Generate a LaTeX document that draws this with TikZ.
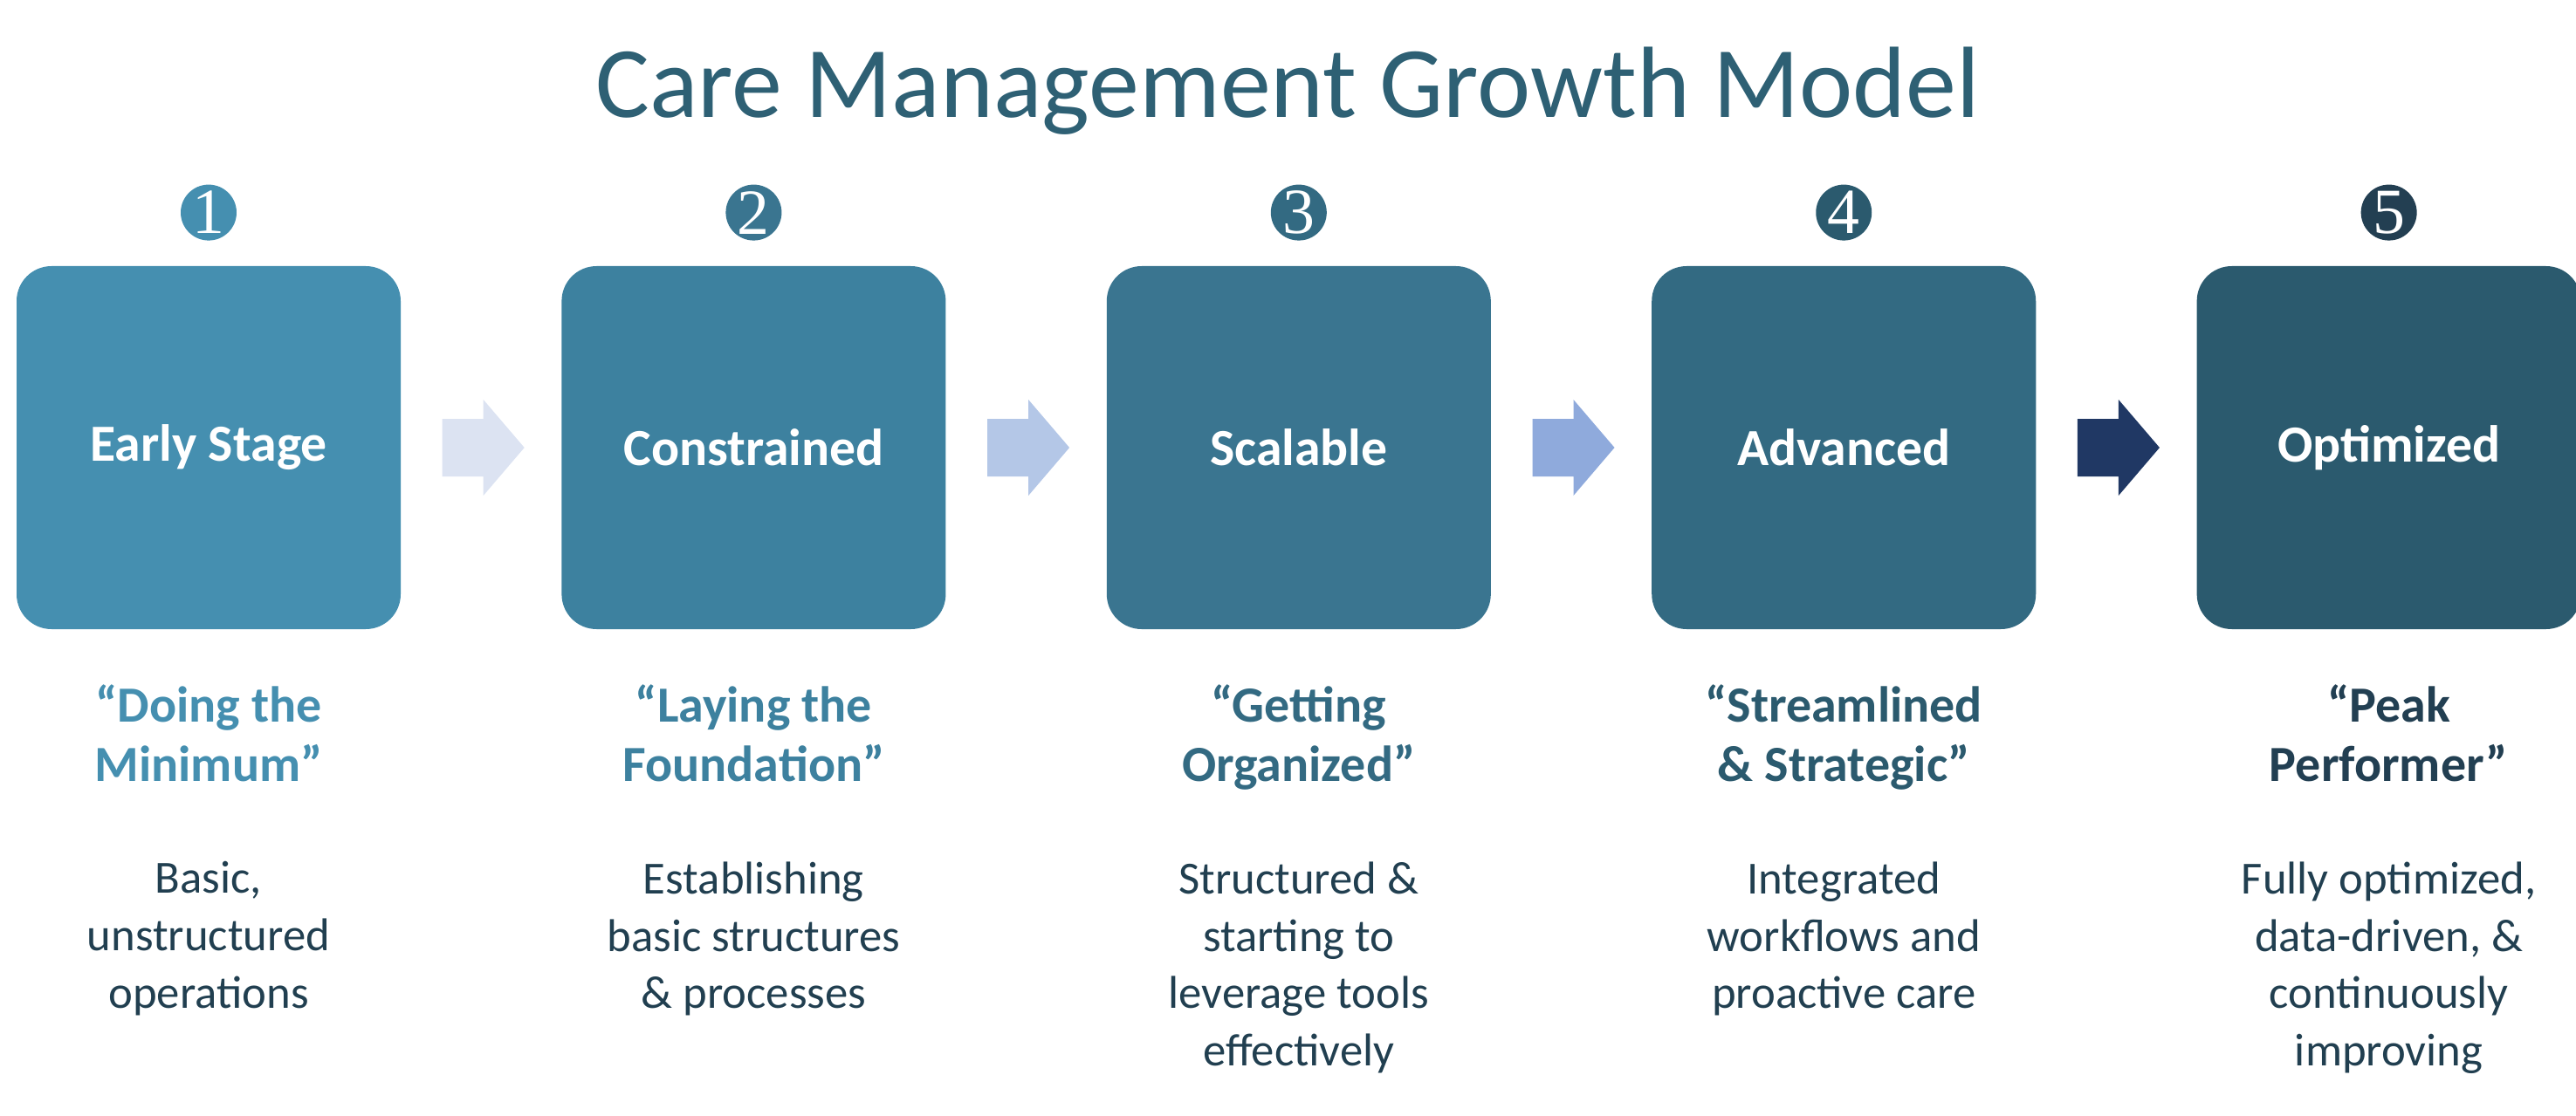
\documentclass[tikz,border=0pt]{standalone}
\usepackage{fontspec}
\setmainfont{Carlito}
\newfontfamily\numfont{Liberation Serif}
\usetikzlibrary{positioning,calc}
\definecolor{stageA}{HTML}{458FB0}
\definecolor{stageB}{HTML}{3D819F}
\definecolor{stageC}{HTML}{3A7590}
\definecolor{stageD}{HTML}{336A82}
\definecolor{stageE}{HTML}{2B5A6E}
\definecolor{circA}{HTML}{458FB0}
\definecolor{circB}{HTML}{3A7590}
\definecolor{circC}{HTML}{336A82}
\definecolor{circD}{HTML}{2B5A6E}
\definecolor{circE}{HTML}{233F52}
\definecolor{headA}{HTML}{458FB0}
\definecolor{headB}{HTML}{3D819F}
\definecolor{headC}{HTML}{336A82}
\definecolor{headD}{HTML}{2B5A6E}
\definecolor{headE}{HTML}{223F52}
\definecolor{arrA}{HTML}{DCE3F2}
\definecolor{arrB}{HTML}{B4C7E7}
\definecolor{arrC}{HTML}{8FAADC}
\definecolor{arrD}{HTML}{203864}
\definecolor{titlecol}{HTML}{2E6074}
\definecolor{desccol}{HTML}{213F50}
\tikzstyle{stagebox} = [rectangle, rounded corners=0.4cm, minimum width=4.4cm,
    minimum height=4.16cm, inner sep=0pt, text=white,
    font=\fontsize{17}{20}\selectfont\bfseries]
\tikzstyle{badge} = [circle, minimum size=0.64cm, inner sep=0pt, text=white,
    font=\numfont\fontsize{21}{21}\selectfont]
\tikzstyle{motto} = [align=center, inner sep=0pt, anchor=north,
    font=\fontsize{16.5}{19.3}\selectfont\bfseries]
\tikzstyle{desc} = [align=center, inner sep=0pt, anchor=north, text=desccol,
    font=\fontsize{15}{18.7}\selectfont]
\begin{document}
\begin{tikzpicture}
    \useasboundingbox (0,0) rectangle (29.51,12.78);
    % Title
    \node[text=titlecol, font=\fontsize{33}{36}\selectfont] (title) at (14.75,11.74) {Care Management Growth Model};
    % Place stages
    \node[stagebox, fill=stageA] (early) at (2.39,7.65) {Early Stage};
    \node[stagebox, fill=stageB, right=1.83cm of early] (constrained) {Constrained};
    \node[stagebox, fill=stageC, right=1.83cm of constrained] (scalable) {Scalable};
    \node[stagebox, fill=stageD, right=1.83cm of scalable] (advanced) {Advanced};
    \node[stagebox, fill=stageE, right=1.83cm of advanced] (optimized) {Optimized};
    % Numbers
    \node[badge, fill=circA, above=0.28cm of early] (n1) {1};
    \node[badge, fill=circB, above=0.28cm of constrained] (n2) {2};
    \node[badge, fill=circC, above=0.28cm of scalable] (n3) {3};
    \node[badge, fill=circD, above=0.28cm of advanced] (n4) {4};
    \node[badge, fill=circE, above=0.28cm of optimized] (n5) {5};
    % Arrows between stages
    \foreach \a/\b/\c in {early/constrained/arrA, constrained/scalable/arrB,
                          scalable/advanced/arrC, advanced/optimized/arrD}
        \fill[\c] ($(\a.east)+(0.47,0.33)$) -- ++(0.47,0) -- ++(0,0.22)
            -- ($(\a.east)+(1.41,0)$) -- ($(\a.east)+(0.94,-0.55)$) -- ++(0,0.22)
            -- ++(-0.47,0) -- cycle;
    % Mottos
    \node[motto, text=headA, below=0.62cm of early.south] (m1) {“Doing the\\Minimum"};
    \node[motto, text=headB, below=0.62cm of constrained.south] (m2) {“Laying the\\Foundation"};
    \node[motto, text=headC, below=0.62cm of scalable.south] (m3) {“Getting\\Organized"};
    \node[motto, text=headD, below=0.62cm of advanced.south] (m4) {“Streamlined\\\& Strategic"};
    \node[motto, text=headE, below=0.62cm of optimized.south] (m5) {“Peak\\Performer”};
    % Descriptions
    \node[desc] (d1) at (2.39,2.91) {Basic,\\unstructured\\operations};
    \node[desc] (d2) at (constrained |- d1.north) {Establishing\\basic structures\\\& processes};
    \node[desc] (d3) at (scalable |- d1.north) {Structured \&\\starting to\\leverage tools\\effectively};
    \node[desc] (d4) at (advanced |- d1.north) {Integrated\\workflows and\\proactive care};
    \node[desc] (d5) at (optimized |- d1.north) {Fully optimized,\\data-driven, \&\\continuously\\improving};
\end{tikzpicture}
\end{document}
